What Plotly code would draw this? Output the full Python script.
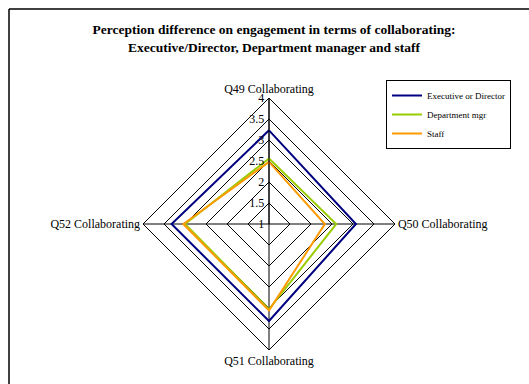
import plotly.graph_objects as go

categories = ["Q49 Collaborating", "Q50 Collaborating", "Q51 Collaborating", "Q52 Collaborating"]
executive = [3.23, 3.07, 3.31, 3.32]
dept_mgr = [2.56, 2.60, 3.03, 3.00]
staff = [2.48, 2.33, 3.06, 3.04]
series_names = ["Executive or Director", "Department mgr", "Staff"]
colors = ["#000080", "#99CC00", "#FF9900"]
radial_ticks = [1, 1.5, 2, 2.5, 3, 3.5, 4]

W, H = 529, 384
fig = go.Figure()
for name, vals, col in zip(series_names, [executive, dept_mgr, staff], colors):
    fig.add_trace(go.Scatterpolar(
        r=vals + vals[:1], theta=categories + categories[:1], mode="lines",
        name=name, line=dict(color=col, width=2)))

cx, cy, R = 269, 224, 126
fig.update_layout(
    width=W, height=H, margin=dict(l=0, r=0, t=0, b=0),
    paper_bgcolor="white", plot_bgcolor="white",
    font=dict(family="Liberation Serif", color="black", size=11),
    title=dict(text="<b>Perception difference on engagement in terms of collaborating:<br>Executive/Director, Department manager and staff</b>",
               x=274 / W, xanchor="center", y=1 - 34 / H, yanchor="top",
               font=dict(family="Liberation Serif", size=13.5, color="black")),
    polar=dict(
        domain=dict(x=[(cx - R) / W, (cx + R) / W], y=[(H - cy - R) / H, (H - cy + R) / H]),
        bgcolor="white",
        gridshape="linear",
        angularaxis=dict(rotation=90, direction="clockwise", showline=True, linecolor="black",
                         linewidth=1, gridcolor="black", gridwidth=1, ticks="",
                         tickfont=dict(family="Liberation Serif", size=12, color="black")),
        radialaxis=dict(range=[1, 4], tickvals=radial_ticks, ticktext=[str(t) for t in radial_ticks],
                        angle=90, tickangle=90, showline=True, linecolor="black", linewidth=1,
                        gridcolor="black", gridwidth=1, ticks="", side="counterclockwise",
                        tickfont=dict(family="Liberation Serif", size=12, color="black")),
    ),
    legend=dict(x=386 / W, y=1 - 80 / H, xanchor="left", yanchor="top",
                bordercolor="black", borderwidth=1, bgcolor="white",
                font=dict(family="Liberation Serif", size=9, color="black"),
                tracegroupgap=0, itemwidth=30),
    showlegend=True,
)
fig.add_shape(type="line", xref="paper", yref="paper", x0=9 / W, x1=1.05, y0=1 - 9 / H, y1=1 - 9 / H,
              line=dict(color="black", width=1.5))
fig.add_shape(type="line", xref="paper", yref="paper", x0=9 / W, x1=9 / W, y0=1 - 9 / H, y1=-0.05,
              line=dict(color="black", width=1.5))
fig.write_html("out.html", config={"displayModeBar": False},
               post_script="document.body.style.margin='0';document.body.style.overflow='hidden';")
